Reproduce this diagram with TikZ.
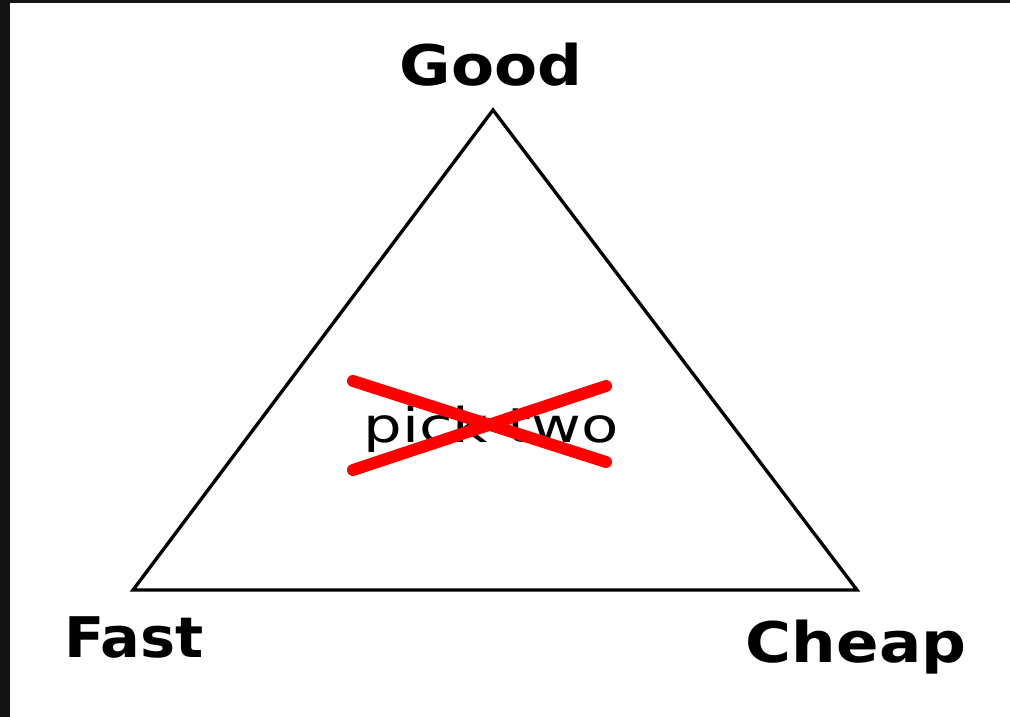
\documentclass[tikz,border=0pt]{standalone}
\usepackage{fontspec}
\setmainfont{DejaVu Sans}
\begin{document}
\begin{tikzpicture}[x=0.75pt,y=-0.75pt,
  lbl/.style={font=\fontsize{42}{50}\selectfont\bfseries, inner sep=0pt, anchor=base, xscale=1.12},
  cross/.style={draw=red, line width=9pt, line cap=round}]
\useasboundingbox (0,0) rectangle (1010,717);
\fill[black!92] (0,0) rectangle (1010,717);
\fill[white] (10,3) rectangle (1010,717);
\coordinate (G) at (493,110);
\coordinate (F) at (133,590);
\coordinate (C) at (857,590);
\draw[line width=2.5pt, line join=miter] (G) -- (F) -- (C) -- cycle;
\node[lbl] (good) at (491,85) {Good};
\node[lbl, xscale=0.94] (fast) at (134,657) {Fast};
\node[lbl] (cheap) at (856,662) {Cheap};
\node[font=\fontsize{36}{40}\selectfont, inner sep=0pt, anchor=base, xscale=1.27] (pick) at (491,442) {pick two};
\coordinate (a1) at (353,381);
\coordinate (a2) at (606,462);
\coordinate (b1) at (353,470);
\coordinate (b2) at (606,386);
\draw[cross] (a1) -- (a2);
\draw[cross] (b1) -- (b2);
\end{tikzpicture}
\end{document}
